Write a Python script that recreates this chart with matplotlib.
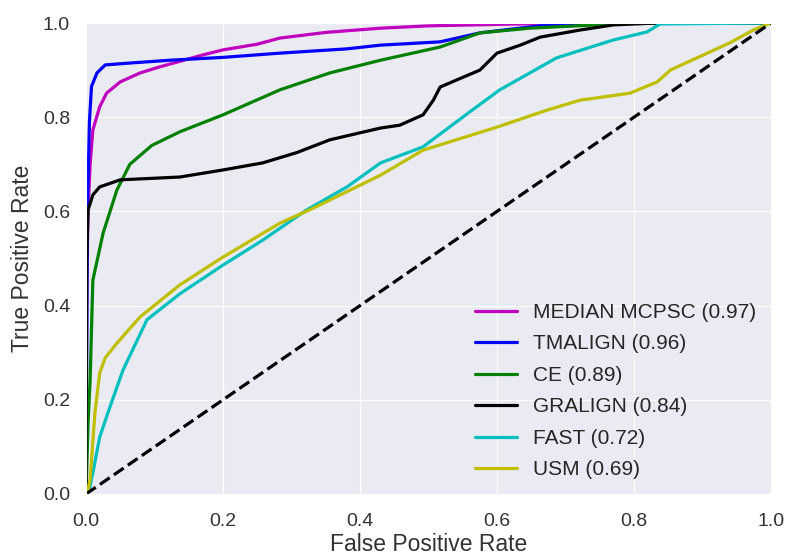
import numpy as np
import matplotlib
matplotlib.use("Agg")
import matplotlib.pyplot as plt
import seaborn as sns

sns.set_style("darkgrid")
plt.rcParams['font.family'] = ['Liberation Sans', 'DejaVu Sans']

# ROC curves (fpr, tpr)
mcpsc_x = [0, 0.001, 0.003, 0.006, 0.01, 0.02, 0.03, 0.05, 0.079, 0.108, 0.133, 0.17, 0.2, 0.25, 0.283, 0.35, 0.43, 0.5, 0.6, 0.7, 1.0]
mcpsc_y = [0, 0.45, 0.6, 0.7, 0.773, 0.822, 0.851, 0.875, 0.894, 0.907, 0.917, 0.932, 0.943, 0.955, 0.968, 0.98, 0.989, 0.994, 0.997, 1.0, 1.0]

tm_x = [0, 0.002, 0.005, 0.008, 0.016, 0.028, 0.064, 0.123, 0.2, 0.283, 0.38, 0.43, 0.517, 0.575, 0.673, 0.75, 1.0]
tm_y = [0, 0.6, 0.79, 0.865, 0.894, 0.911, 0.915, 0.921, 0.927, 0.936, 0.945, 0.953, 0.96, 0.979, 0.996, 1.0, 1.0]

ce_x = [0, 0.003, 0.006, 0.01, 0.025, 0.045, 0.064, 0.096, 0.137, 0.2, 0.283, 0.356, 0.43, 0.517, 0.575, 0.648, 0.8, 1.0]
ce_y = [0, 0.15, 0.242, 0.454, 0.554, 0.645, 0.7, 0.74, 0.769, 0.805, 0.858, 0.894, 0.921, 0.949, 0.979, 0.989, 1.0, 1.0]

gr_x = [0, 0.001, 0.003, 0.01, 0.02, 0.05, 0.137, 0.2, 0.258, 0.308, 0.356, 0.43, 0.458, 0.492, 0.507, 0.517, 0.541, 0.575, 0.6, 0.634, 0.663, 0.721, 0.77, 0.834, 1.0]
gr_y = [0, 0.5, 0.603, 0.635, 0.652, 0.667, 0.673, 0.688, 0.703, 0.725, 0.752, 0.777, 0.783, 0.805, 0.836, 0.864, 0.879, 0.9, 0.936, 0.953, 0.97, 0.985, 0.996, 1.0, 1.0]

fast_x = [0, 0.005, 0.01, 0.02, 0.035, 0.054, 0.089, 0.137, 0.2, 0.258, 0.322, 0.381, 0.43, 0.492, 0.56, 0.604, 0.687, 0.77, 0.819, 0.838, 1.0]
fast_y = [0, 0.01, 0.045, 0.121, 0.185, 0.263, 0.37, 0.425, 0.486, 0.539, 0.603, 0.652, 0.703, 0.737, 0.811, 0.858, 0.926, 0.964, 0.981, 0.998, 1.0]

usm_x = [0, 0.003, 0.006, 0.013, 0.02, 0.028, 0.045, 0.079, 0.137, 0.2, 0.283, 0.332, 0.43, 0.492, 0.6, 0.673, 0.721, 0.794, 0.834, 0.853, 0.892, 0.94, 0.974, 1.0]
usm_y = [0, 0.01, 0.03, 0.172, 0.257, 0.289, 0.32, 0.376, 0.444, 0.503, 0.575, 0.607, 0.677, 0.73, 0.779, 0.815, 0.836, 0.851, 0.875, 0.9, 0.926, 0.958, 0.985, 1.0]

labels = ["MEDIAN MCPSC (0.97)", "TMALIGN (0.96)", "CE (0.89)", "GRALIGN (0.84)", "FAST (0.72)", "USM (0.69)"]
colors = ["m", "b", "g", "k", "c", "y"]
curves = [(mcpsc_x, mcpsc_y), (tm_x, tm_y), (ce_x, ce_y), (gr_x, gr_y), (fast_x, fast_y), (usm_x, usm_y)]

fig = plt.figure(figsize=(7.89, 5.6), dpi=100)
ax = fig.add_axes([86/789, 66/560, 685/789, 471/560])
for (x, y), c, l in zip(curves, colors, labels):
    ax.plot(x, y, color=c, lw=2.3, label=l)
ax.plot([0, 1], [0, 1], "k--", lw=2.3)
ax.set_xlim(0, 1)
ax.set_ylim(0, 1)
ax.set_xlabel("False Positive Rate", fontsize=16.5, color="#333333", labelpad=2)
ax.set_ylabel("True Positive Rate", fontsize=16.5, color="#333333", labelpad=6)
ax.tick_params(axis="x", labelsize=14, colors="#333333", pad=10)
ax.tick_params(axis="y", labelsize=14, colors="#333333", pad=8)
ax.legend(loc="lower right", fontsize=15, frameon=False, labelspacing=0.6,
          handlelength=2.0, borderaxespad=0.3)
plt.savefig("out.png", dpi=100)
